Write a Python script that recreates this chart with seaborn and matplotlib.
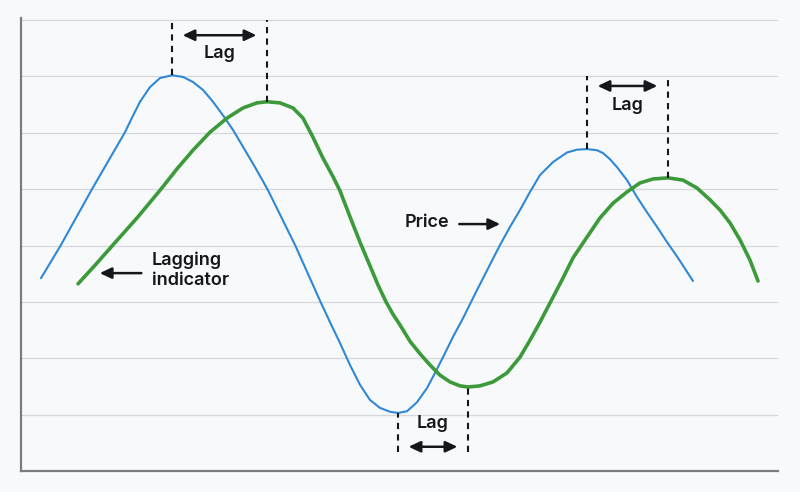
import numpy as np
import pandas as pd
import matplotlib
matplotlib.use("Agg")
import matplotlib.pyplot as plt
import seaborn as sns

# values (x: time 0-100, y: level 0-8)
price_x = [2.64, 5.28, 9.38, 13.74, 14.53, 15.72, 17.04, 18.36, 19.95, 21.40, 22.72,
           24.04, 25.36, 26.68, 28.01, 29.33, 30.65, 31.97, 32.63, 36.20, 39.50, 40.82,
           42.14, 43.46, 44.78, 46.10, 47.42, 48.75, 49.80, 50.99, 52.31, 53.63, 54.69,
           55.75, 57.07, 58.39, 60.24, 63.28, 64.60, 65.92, 67.24, 68.56, 70.28, 72.13,
           73.45, 74.77, 76.09, 76.88, 77.81, 78.73, 80.05, 81.37, 82.69, 84.02, 85.34,
           86.79, 88.77]
price_y = [3.42, 4.01, 5.00, 6.01, 6.23, 6.55, 6.81, 6.97, 7.02, 6.99, 6.90,
           6.76, 6.55, 6.31, 6.05, 5.75, 5.45, 5.14, 4.98, 4.01, 3.02, 2.64,
           2.27, 1.88, 1.53, 1.26, 1.12, 1.05, 1.03, 1.06, 1.22, 1.47, 1.74,
           2.02, 2.38, 2.71, 3.21, 4.01, 4.33, 4.63, 4.95, 5.25, 5.48, 5.65,
           5.70, 5.71, 5.69, 5.64, 5.53, 5.39, 5.16, 4.86, 4.59, 4.33, 4.06,
           3.78, 3.37]

indicator_x = [7.53, 9.78, 12.15, 15.46, 18.49, 20.61, 22.72, 24.97, 27.21, 29.33,
               31.18, 32.50, 34.21, 35.93, 37.25, 38.57, 39.89, 41.22, 42.14, 43.46,
               44.78, 46.10, 47.16, 48.22, 49.14, 50.07, 51.39, 52.71, 54.03, 55.35,
               56.67, 57.99, 59.05, 60.63, 62.35, 64.20, 65.92, 67.24, 68.56, 69.88,
               71.47, 72.92, 74.77, 76.49, 78.20, 80.05, 81.77, 83.49, 85.47, 87.45,
               89.30, 91.02, 92.34, 93.66, 94.98, 96.30, 97.36]
indicator_y = [3.32, 3.65, 4.01, 4.51, 5.00, 5.36, 5.69, 6.01, 6.26, 6.44,
               6.53, 6.55, 6.53, 6.44, 6.26, 5.92, 5.55, 5.22, 4.97, 4.51,
               4.06, 3.64, 3.30, 3.00, 2.78, 2.59, 2.30, 2.08, 1.88, 1.70,
               1.58, 1.51, 1.49, 1.51, 1.58, 1.74, 2.02, 2.32, 2.64, 2.98,
               3.39, 3.78, 4.15, 4.49, 4.75, 4.95, 5.11, 5.18, 5.20, 5.16,
               5.02, 4.81, 4.63, 4.40, 4.10, 3.74, 3.37]

lag_label = "Lag"
price_label = "Price"
indicator_label = "Lagging\nindicator"

price = pd.DataFrame({"t": price_x, "v": price_y})
indicator = pd.DataFrame({"t": indicator_x, "v": indicator_y})

bg = "#f8f9fb"
blue = "#2f88d6"
green = "#3c9a3a"
ink = "#15171c"

sns.set_style("white")
plt.rcParams["font.family"] = ["Inter", "DejaVu Sans"]

fig = plt.figure(figsize=(8, 4.92), dpi=100, facecolor=bg)
ax = fig.add_axes([0.02625, 0.04268, 0.94625, 0.9201])
ax.set_facecolor(bg)

sns.lineplot(data=price, x="t", y="v", ax=ax, color=blue, lw=1.5, sort=False,
             solid_joinstyle="round", solid_capstyle="round")
sns.lineplot(data=indicator, x="t", y="v", ax=ax, color=green, lw=2.6, sort=False,
             solid_joinstyle="round", solid_capstyle="round")

ax.set_xlim(0, 100)
ax.set_ylim(0, 8.03)
ax.set_yticks(range(1, 9))
ax.set_xticks([])
ax.yaxis.grid(True, color="#d6d7da", lw=0.9)
ax.tick_params(length=0, labelleft=False, labelbottom=False)
ax.set_xlabel("")
ax.set_ylabel("")
for s in ["top", "right"]:
    ax.spines[s].set_visible(False)
for s in ["left", "bottom"]:
    ax.spines[s].set_color("#7b7c80")
    ax.spines[s].set_linewidth(1.6)

# turning points
p_peak1 = price.loc[price.t < 40, "v"].idxmax()
i_peak1 = indicator.loc[indicator.t < 45, "v"].idxmax()
p_trough = price.loc[(price.t > 30) & (price.t < 70), "v"].idxmin()
i_trough = indicator.loc[(indicator.t > 30) & (indicator.t < 75), "v"].idxmin()
p_peak2 = price.loc[price.t > 60, "v"].idxmax()
i_peak2 = indicator.loc[indicator.t > 70, "v"].idxmax()

dash = dict(color=ink, lw=1.5, linestyles=(0, (3, 2.5)))
ax.vlines(price.t[p_peak1], price.v[p_peak1], 8, **dash)
ax.vlines(indicator.t[i_peak1], indicator.v[i_peak1], 8, **dash)
ax.vlines(price.t[p_peak2], price.v[p_peak2], 7, **dash)
ax.vlines(indicator.t[i_peak2], indicator.v[i_peak2], 7, **dash)
ax.vlines(price.t[p_trough], 0.34, price.v[p_trough], **dash)
ax.vlines(indicator.t[i_trough], 0.34, indicator.v[i_trough], **dash)

arrow = dict(arrowstyle="<|-|>,head_length=0.7,head_width=0.33", lw=1.8,
             color=ink, shrinkA=0, shrinkB=0)


def lag_arrow(x0, x1, y_arrow, y_text):
    ax.annotate("", xy=(x0 + 1.4, y_arrow), xytext=(x1 - 1.4, y_arrow),
                arrowprops=arrow)
    ax.text((x0 + x1) / 2, y_text, lag_label, ha="center", va="center",
            fontsize=13, fontweight="semibold", color=ink)


lag_arrow(price.t[p_peak1], indicator.t[i_peak1], 7.73, 7.40)
lag_arrow(price.t[p_peak2], indicator.t[i_peak2], 6.83, 6.49)
lag_arrow(price.t[p_trough], indicator.t[i_trough], 0.43, 0.85)

one = dict(arrowstyle="-|>,head_length=0.7,head_width=0.33", lw=1.8,
           color=ink, shrinkA=0, shrinkB=0)
ax.text(50.7, 4.40, price_label, ha="left", va="center",
        fontsize=13, fontweight="semibold", color=ink)
ax.annotate("", xy=(63.3, 4.38), xytext=(57.9, 4.38), arrowprops=one)

ax.text(17.3, 3.56, indicator_label, ha="left", va="center", linespacing=1.25,
        fontsize=13, fontweight="semibold", color=ink)
ax.annotate("", xy=(10.4, 3.51), xytext=(15.9, 3.51), arrowprops=one)

fig.savefig("out.png", dpi=100, facecolor=bg)
